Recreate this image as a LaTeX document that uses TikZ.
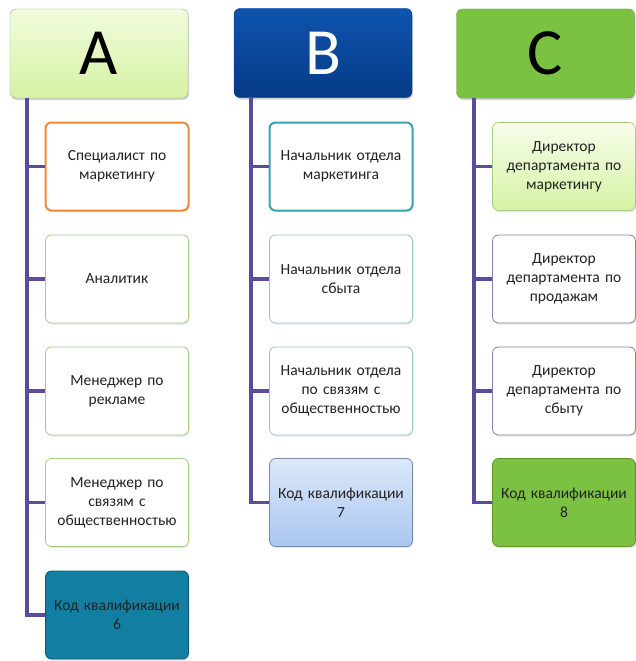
\documentclass[tikz,border=0pt]{standalone}
\usepackage{fontspec}
\setmainfont{Carlito}
\usetikzlibrary{shadows}
\definecolor{spinecol}{HTML}{5E4A9A}
\definecolor{limelt}{HTML}{F1FCDC}
\definecolor{limedk}{HTML}{D6F2A4}
\definecolor{bluelt}{HTML}{0E54AE}
\definecolor{bluedk}{HTML}{063A86}
\definecolor{grass}{HTML}{7CC242}
\definecolor{grassdk}{HTML}{5C9A2E}
\definecolor{orangeln}{HTML}{F0883A}
\definecolor{greenln}{HTML}{A4CC86}
\definecolor{tealln}{HTML}{3AA2B2}
\definecolor{tealltln}{HTML}{92C4CC}
\definecolor{petrol}{HTML}{127FA2}
\definecolor{skylt}{HTML}{DCE8FA}
\definecolor{skydk}{HTML}{AAC7F0}
\definecolor{greyviol}{HTML}{8A7FA6}
\definecolor{txt}{HTML}{222222}
\tikzset{
  head/.style={rounded corners=6pt,minimum width=178pt,minimum height=89pt,inner sep=0pt,
    font=\fontsize{66}{66}\selectfont,
    drop shadow={opacity=0.35,shadow xshift=1pt,shadow yshift=-2pt}},
  post/.style={rounded corners=6pt,minimum width=143pt,minimum height=88pt,inner sep=0pt,
    text width=140pt,align=center,fill=white,line width=0.8pt,text=txt,
    font=\fontsize{15.5}{19}\selectfont,
    drop shadow={opacity=0.2,shadow xshift=1pt,shadow yshift=-1.5pt}},
  spine/.style={draw=spinecol,line width=3.4pt},
}
\begin{document}
\begin{tikzpicture}[x=1pt,y=-1pt]
\useasboundingbox (0,0) rectangle (635,661);
% spine start points
\coordinate (sA) at (27,98);
\coordinate (sB) at (251,98);
\coordinate (sC) at (474,98);
% column headers
\node[head,draw=gray!70,top color=limelt,bottom color=limedk] (hA) at (99,53.5) {A};
\node[head,draw=bluedk,top color=bluelt,bottom color=bluedk,text=white] (hB) at (323,53) {B};
\node[head,draw=grassdk,fill=grass] (hC) at (545.5,53.5) {C};
% column A
\node[post,draw=orangeln,line width=2pt] (a1) at (117,166.5) {Специалист по\\маркетингу};
\node[post,draw=greenln] (a2) at (117,279) {Аналитик};
\node[post,draw=greenln] (a3) at (117,391) {Менеджер по\\рекламе};
\node[post,draw=greenln] (a4) at (117,502.5) {Менеджер по\\связям с\\общественностью};
\node[post,draw=petrol!70!black,fill=petrol] (a5) at (117,615) {Код квалификации\\6};
% column B
\node[post,draw=tealln,line width=2pt] (b1) at (341,166.5) {Начальник отдела\\маркетинга};
\node[post,draw=tealltln] (b2) at (341,279) {Начальник отдела\\сбыта};
\node[post,draw=tealltln] (b3) at (341,391) {Начальник отдела\\по связям с\\общественностью};
\node[post,draw=skydk!70!black,top color=skylt,bottom color=skydk] (b4) at (341,502.5) {Код квалификации\\7};
% column C
\node[post,draw=greenln,top color=limelt!60!white,bottom color=limedk] (c1) at (564,166.5) {Директор\\департамента по\\маркетингу};
\node[post,draw=greyviol] (c2) at (564,279) {Директор\\департамента по\\продажам};
\node[post,draw=greyviol] (c3) at (564,391) {Директор\\департамента по\\сбыту};
\node[post,draw=grassdk,fill=grass] (c4) at (564,502.5) {Код квалификации\\8};
% connectors
\foreach \i in {1,...,5} {\draw[spine] (sA) |- (a\i.west);}
\foreach \i in {1,...,4} {\draw[spine] (sB) |- (b\i.west);}
\foreach \i in {1,...,4} {\draw[spine] (sC) |- (c\i.west);}
\end{tikzpicture}
\end{document}
